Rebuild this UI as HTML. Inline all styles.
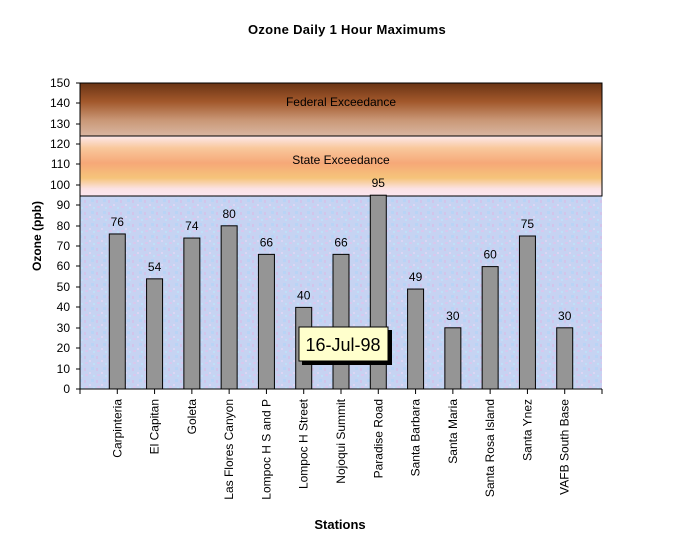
<!DOCTYPE html>
<html><head><meta charset="utf-8"><style>
body{margin:0;background:#fff;}
svg{display:block;font-family:"Liberation Sans",Arial,sans-serif;}
</style></head><body>
<svg width="692" height="560" xmlns="http://www.w3.org/2000/svg">
<defs>
<linearGradient id="fed" x1="0" y1="0" x2="0" y2="1">
<stop offset="0" stop-color="#6a3415"/>
<stop offset="0.35" stop-color="#a2582b"/>
<stop offset="0.7" stop-color="#c99776"/>
<stop offset="1" stop-color="#d9b6a2"/>
</linearGradient>
<linearGradient id="st" x1="0" y1="0" x2="0" y2="1">
<stop offset="0" stop-color="#fde8ec"/>
<stop offset="0.2" stop-color="#f9c89c"/>
<stop offset="0.45" stop-color="#f6a878"/>
<stop offset="0.7" stop-color="#f6c47a"/>
<stop offset="0.88" stop-color="#fbe2e4"/>
<stop offset="1" stop-color="#fbe6f0"/>
</linearGradient>
<pattern id="tex" width="12" height="12" patternUnits="userSpaceOnUse">
<rect width="12" height="12" fill="#c6d3f2"/>
<rect x="1" y="2" width="3" height="2" fill="#d8c8ee"/>
<rect x="7" y="7" width="3" height="3" fill="#b8d4f6"/>
<rect x="5" y="0" width="2" height="2" fill="#dcd6f4"/>
<rect x="0" y="8" width="2" height="3" fill="#d2c4ea"/>
<rect x="9" y="3" width="2" height="2" fill="#bfe0f8"/>
</pattern>
</defs>
<text x="347" y="34" font-size="13" font-weight="bold" text-anchor="middle" letter-spacing="0.3">Ozone Daily 1 Hour Maximums</text>
<rect x="80" y="196" width="522" height="193" fill="url(#tex)"/>
<rect x="80" y="136" width="522" height="60" fill="url(#st)" stroke="#000" stroke-width="1"/>
<rect x="80" y="83" width="522" height="53" fill="url(#fed)" stroke="#000" stroke-width="1"/>
<text x="341" y="106" font-size="12" text-anchor="middle">Federal Exceedance</text>
<text x="341" y="164" font-size="12" text-anchor="middle">State Exceedance</text>
<line x1="80" y1="83" x2="80" y2="389" stroke="#000"/>
<line x1="80" y1="389" x2="602" y2="389" stroke="#000"/>
<g font-size="12" text-anchor="end">
<text x="70" y="393">0</text><text x="70" y="373">10</text><text x="70" y="352">20</text><text x="70" y="332">30</text><text x="70" y="311">40</text><text x="70" y="291">50</text><text x="70" y="270">60</text><text x="70" y="250">70</text><text x="70" y="230">80</text><text x="70" y="209">90</text><text x="70" y="189">100</text><text x="70" y="168">110</text><text x="70" y="148">120</text><text x="70" y="128">130</text><text x="70" y="107">140</text><text x="70" y="87">150</text>
</g>
<g stroke="#000">
<line x1="76" y1="389" x2="80" y2="389"/><line x1="76" y1="369" x2="80" y2="369"/><line x1="76" y1="348" x2="80" y2="348"/><line x1="76" y1="328" x2="80" y2="328"/><line x1="76" y1="307" x2="80" y2="307"/><line x1="76" y1="287" x2="80" y2="287"/><line x1="76" y1="266" x2="80" y2="266"/><line x1="76" y1="246" x2="80" y2="246"/><line x1="76" y1="226" x2="80" y2="226"/><line x1="76" y1="205" x2="80" y2="205"/><line x1="76" y1="185" x2="80" y2="185"/><line x1="76" y1="164" x2="80" y2="164"/><line x1="76" y1="144" x2="80" y2="144"/><line x1="76" y1="124" x2="80" y2="124"/><line x1="76" y1="103" x2="80" y2="103"/><line x1="76" y1="83" x2="80" y2="83"/>
</g>
<text transform="translate(41,236) rotate(-90)" font-size="12" font-weight="bold" text-anchor="middle">Ozone (ppb)</text>
<g id="bars" fill="#959595" stroke="#000" stroke-width="1"></g>
<g stroke="#000">
<line x1="80" y1="389" x2="80" y2="394"/><line x1="602" y1="389" x2="602" y2="394"/>
</g>
<script>
var names=["Carpinteria","El Capitan","Goleta","Las Flores Canyon","Lompoc H S and P","Lompoc H Street","Nojoqui Summit","Paradise Road","Santa Barbara","Santa Maria","Santa Rosa Island","Santa Ynez","VAFB South Base"];
var vals=[76,54,74,80,66,40,66,95,49,30,60,75,30];
var ns="http://www.w3.org/2000/svg",svg=document.querySelector("svg");
var step=522/14;
for(var i=0;i<13;i++){
 var cx=80+step*(i+1), h=vals[i]*2.04;
 var r=document.createElementNS(ns,"rect");
 r.setAttribute("x",cx-8);r.setAttribute("y",389-h);r.setAttribute("width",16);r.setAttribute("height",h);
 r.setAttribute("fill","#959595");r.setAttribute("stroke","#000");svg.insertBefore(r,document.getElementById("bars"));
 var t=document.createElementNS(ns,"text");t.setAttribute("x",cx);t.setAttribute("y",389-h-8);
 t.setAttribute("font-size","12");t.setAttribute("text-anchor","middle");t.textContent=vals[i];svg.appendChild(t);
 var l=document.createElementNS(ns,"line");l.setAttribute("x1",cx);l.setAttribute("x2",cx);l.setAttribute("y1",389);l.setAttribute("y2",394);l.setAttribute("stroke","#000");svg.appendChild(l);
 var n=document.createElementNS(ns,"text");n.setAttribute("transform","translate("+(cx+4)+",399) rotate(-90)");
 n.setAttribute("font-size","12");n.setAttribute("text-anchor","end");n.textContent=names[i];svg.appendChild(n);
}
</script>
<rect x="302" y="330" width="90" height="35" fill="#000"/>
<rect x="299" y="327" width="89" height="34" fill="#ffffcc" stroke="#000"/>
<text x="343" y="351" font-size="18" text-anchor="middle">16-Jul-98</text>
<text x="340" y="529" font-size="13" font-weight="bold" text-anchor="middle">Stations</text>
</svg>
</body></html>
